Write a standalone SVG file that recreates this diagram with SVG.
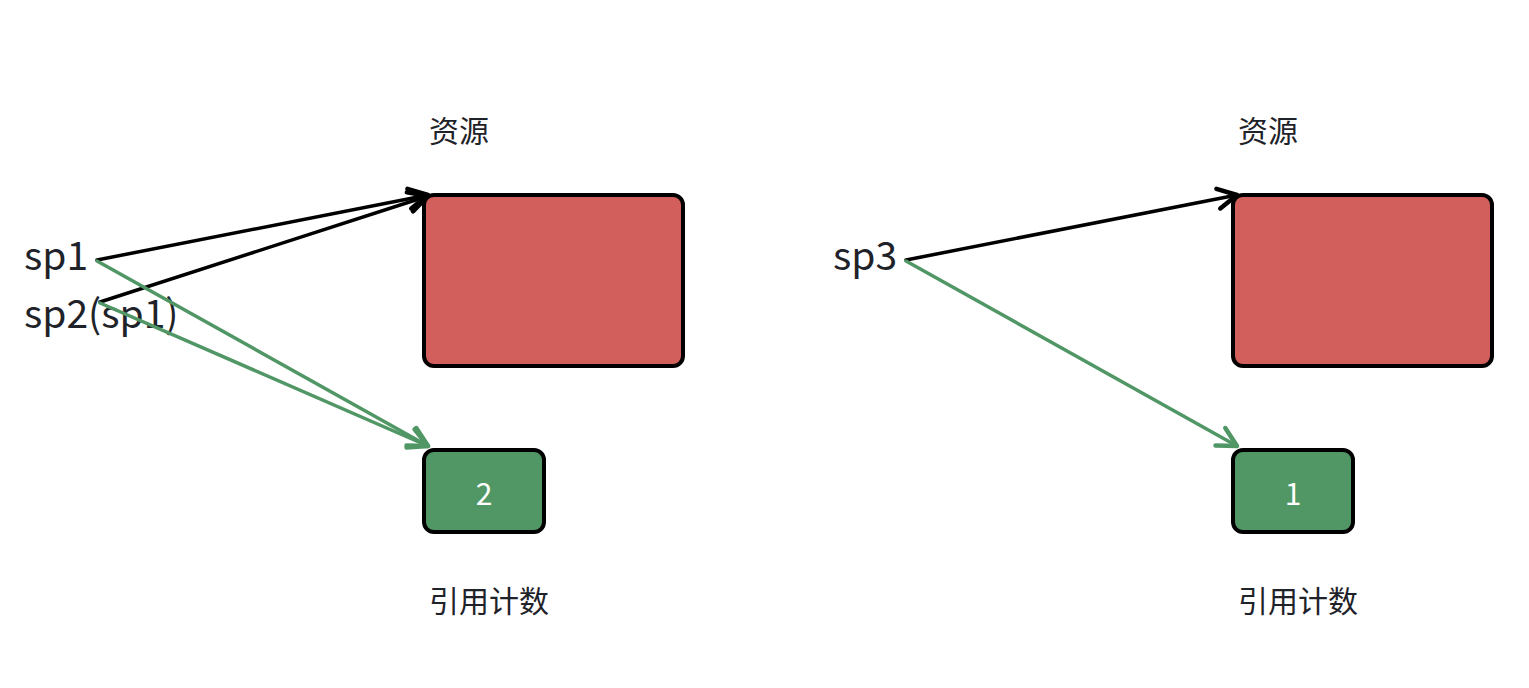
<svg xmlns="http://www.w3.org/2000/svg" width="1529" height="688" viewBox="0 0 1529 688">
<defs>
<style>
.lbl{font-family:"Noto Sans CJK SC","Noto Sans",sans-serif;fill:#1f2329;}
.sp{font-size:39px;}
.cn{font-size:30px;}
.num{font-family:"Noto Sans CJK SC","Noto Sans",sans-serif;font-size:30px;fill:#ffffff;text-anchor:middle;dominant-baseline:central;}
.res{fill:#d35f5c;stroke:#000;stroke-width:4;}
.cnt{fill:#519766;stroke:#000;stroke-width:4;}
.blk{stroke:#000;stroke-width:3.5;fill:none;stroke-linecap:round;}
.grn{stroke:#519766;stroke-width:3.5;fill:none;stroke-linecap:round;}
</style>
<marker id="ab" markerUnits="userSpaceOnUse" markerWidth="30" markerHeight="30" refX="0" refY="0" viewBox="-25 -15 30 30" orient="auto" overflow="visible">
<path d="M-19,-10 L0,0 L-19,10" fill="none" stroke="#000" stroke-width="4.5" stroke-linecap="round" stroke-linejoin="round"/>
</marker>
<marker id="ag" markerUnits="userSpaceOnUse" markerWidth="30" markerHeight="30" refX="0" refY="0" viewBox="-25 -15 30 30" orient="auto" overflow="visible">
<path d="M-19,-10 L0,0 L-19,10" fill="none" stroke="#519766" stroke-width="4.5" stroke-linecap="round" stroke-linejoin="round"/>
</marker>
</defs>
<rect width="1529" height="688" fill="#ffffff"/>

<g id="left-resource">
<text class="lbl cn" x="429" y="142">资源</text>
<rect class="res" x="424" y="195" width="259" height="171" rx="10"/>
</g>
<g id="left-count">
<rect class="cnt" x="424" y="450" width="120" height="82" rx="10"/>
<text class="num" x="484" y="492">2</text>
<text class="lbl cn" x="429" y="612">引用计数</text>
</g>
<g id="sp1"><text class="lbl sp" x="24" y="270">sp1</text></g>
<g id="sp2"><text class="lbl sp" x="24" y="328">sp2(sp1)</text></g>

<g id="right-resource">
<text class="lbl cn" x="1238" y="142">资源</text>
<rect class="res" x="1233" y="195" width="259" height="171" rx="10"/>
</g>
<g id="right-count">
<rect class="cnt" x="1233" y="450" width="120" height="82" rx="10"/>
<text class="num" x="1293" y="492">1</text>
<text class="lbl cn" x="1238" y="612">引用计数</text>
</g>
<g id="sp3"><text class="lbl sp" x="833" y="270">sp3</text></g>

<g id="connectors">
<line class="blk" x1="97" y1="260" x2="428" y2="195" marker-end="url(#ab)"/>
<line class="blk" x1="100" y1="302" x2="428" y2="196" marker-end="url(#ab)"/>
<line class="grn" x1="97" y1="261" x2="428" y2="446" marker-end="url(#ag)"/>
<line class="grn" x1="100" y1="303" x2="428" y2="446" marker-end="url(#ag)"/>
<line class="blk" x1="906" y1="260" x2="1237" y2="195" marker-end="url(#ab)"/>
<line class="grn" x1="906" y1="261" x2="1237" y2="446" marker-end="url(#ag)"/>
</g>
</svg>
